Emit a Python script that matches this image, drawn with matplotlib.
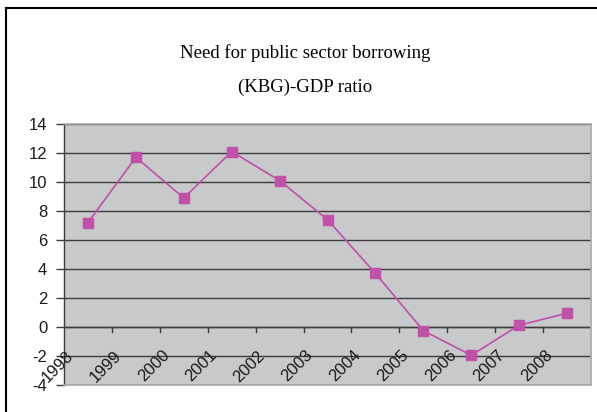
import matplotlib.pyplot as plt
from matplotlib.patches import Rectangle

# dane
years = ["1998", "1999", "2000", "2001", "2002", "2003", "2004", "2005", "2006", "2007", "2008"]
ratio = [7.2, 11.7, 8.9, 12.1, 10.1, 7.4, 3.7, -0.25, -1.95, 0.12, 0.95]
yticks = [-4, -2, 0, 2, 4, 6, 8, 10, 12, 14]

W, H = 597, 412
fig = plt.figure(figsize=(W / 100, H / 100), dpi=100)

# ramka wykresu (tylko lewa i gorna krawedz widoczna)
fig.patches.append(Rectangle((6 / W, -0.1), 1.2, 1 - 8 / H + 0.1, transform=fig.transFigure,
                             fill=False, edgecolor="black", linewidth=1.5))

ax = fig.add_axes([64 / W, 1 - 385 / H, (591 - 64) / W, (385 - 124) / H])
ax.set_facecolor("#c8c9cb")

x = list(range(len(years)))
ax.plot(x, ratio, color="#c050a8", linewidth=1.2, marker="s", markersize=7, zorder=3)

ax.set_xlim(-0.5, len(years) - 0.5)
ax.set_ylim(-4, 14)
ax.set_yticks(yticks)
ax.set_yticklabels([str(v) for v in yticks], fontsize=12, family="Liberation Sans", color="#1a1a1a")
ax.yaxis.grid(True, color="#3c3c3c", linewidth=1)
ax.set_axisbelow(True)

# os x przechodzi przez zero
ax.axhline(0, color="#3c3c3c", linewidth=1, zorder=2)
ax.set_xticks([i - 0.5 for i in range(1, len(years) + 1)])
ax.set_xticklabels([])
ax.tick_params(axis="x", length=0)
for i in range(1, len(years)):
    ax.plot([i - 0.5, i - 0.5], [0, -0.35], color="#3c3c3c", linewidth=1, zorder=2, clip_on=False)

for i, lab in enumerate(years):
    ax.text(i - 0.63, -2.7, lab, rotation=45, ha="center", va="center",
            fontsize=12, family="Liberation Sans", color="#1a1a1a")

ax.tick_params(axis="y", direction="out", length=6, width=1, color="#3c3c3c", pad=6)
for s in ["top", "right", "bottom"]:
    ax.spines[s].set_color("#a8a8a8")
    ax.spines[s].set_linewidth(1.2)
ax.spines["left"].set_color("#3c3c3c")
ax.spines["left"].set_linewidth(1)

fig.text(305 / W, 1 - 53 / H, "Need for public sector borrowing", ha="center", va="center",
         fontsize=13.5, family="Liberation Serif")
fig.text(305 / W, 1 - 87 / H, "(KBG)-GDP ratio", ha="center", va="center",
         fontsize=13.5, family="Liberation Serif")

fig.savefig("out.png", dpi=100)
